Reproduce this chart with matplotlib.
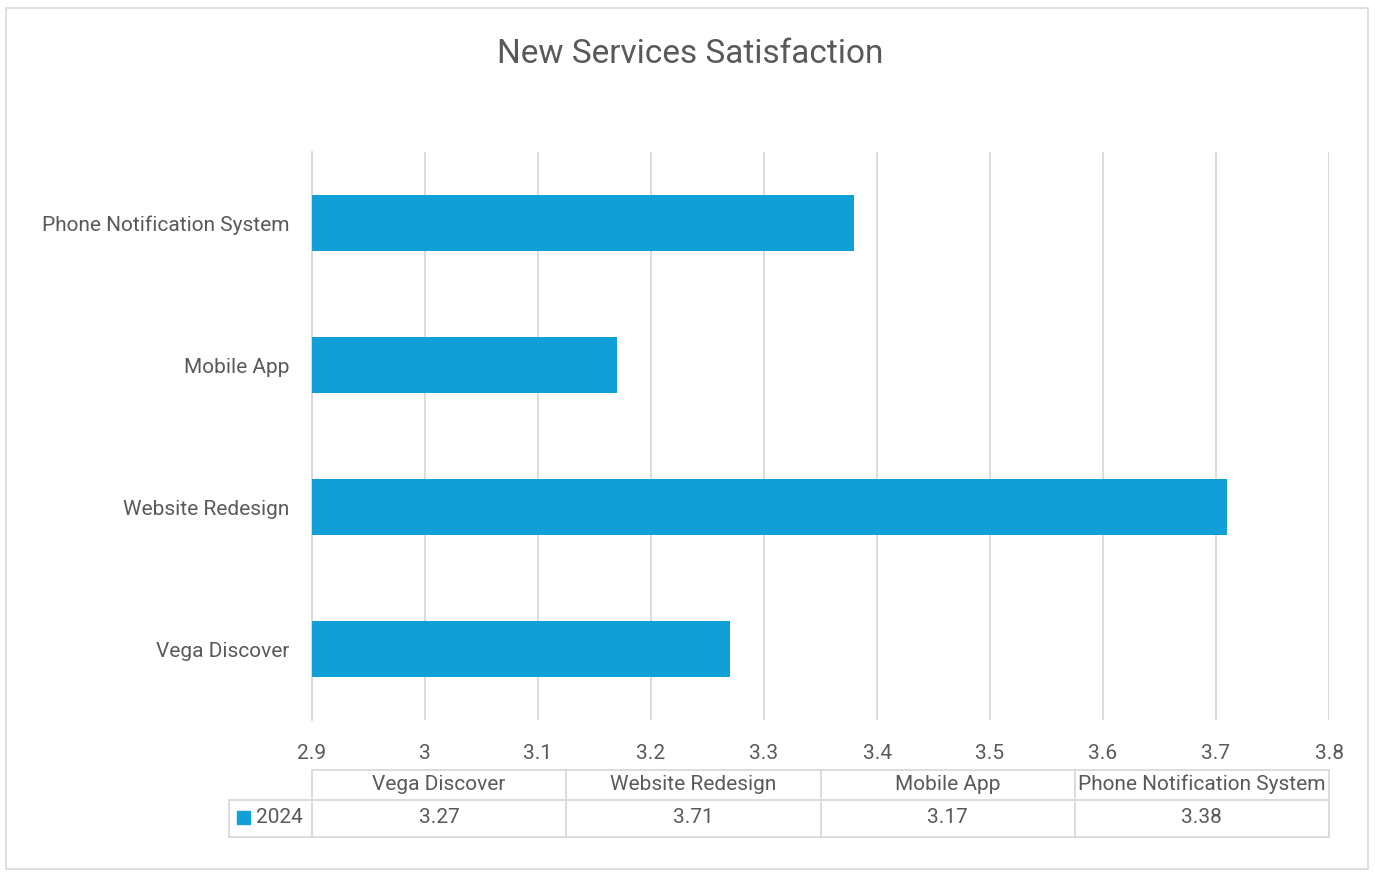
import matplotlib.pyplot as plt
from matplotlib.patches import Rectangle

# satisfaction scores per new service, 2024
services = ["Vega Discover", "Website Redesign", "Mobile App", "Phone Notification System"]
scores_2024 = [3.27, 3.71, 3.17, 3.38]
series_name = "2024"
x_ticks = [2.9, 3.0, 3.1, 3.2, 3.3, 3.4, 3.5, 3.6, 3.7, 3.8]
x_tick_labels = ["2.9", "3", "3.1", "3.2", "3.3", "3.4", "3.5", "3.6", "3.7", "3.8"]

BAR = "#109FD7"
TEXT = "#595959"
GRID = "#D9D9D9"
FS = 15

plt.rcParams["font.family"] = ["Roboto", "DejaVu Sans"]

W, H = 1375, 872
fig = plt.figure(figsize=(W / 100, H / 100), dpi=100)

# chart border
fig.patches.append(Rectangle((6 / W, 3 / H), 1362 / W, 861 / H, transform=fig.transFigure,
                             fill=False, edgecolor=GRID, linewidth=1.2))

fig.text(690 / W, 1 - 54 / H, "New Services Satisfaction", ha="center", va="center",
         fontsize=24, color=TEXT)

ax = fig.add_axes([312 / W, 1 - 720 / H, 1017 / W, 568 / H])
ypos = list(range(len(services)))
ax.barh(ypos, [s - x_ticks[0] for s in scores_2024], left=x_ticks[0], height=0.4,
        color=BAR, zorder=3)
ax.set_xlim(x_ticks[0], x_ticks[-1])
ax.set_ylim(-0.5, len(services) - 0.5)
ax.set_xticks(x_ticks)
ax.set_xticklabels(x_tick_labels)
ax.set_yticks(ypos)
ax.set_yticklabels(services)
ax.tick_params(axis="both", length=0, labelsize=FS, labelcolor=TEXT)
ax.tick_params(axis="x", pad=17)
ax.tick_params(axis="y", pad=16.5)
ax.grid(axis="x", color=GRID, linewidth=1.3, zorder=0)
for side in ["top", "right", "bottom"]:
    ax.spines[side].set_visible(False)
ax.spines["left"].set_color(GRID)
ax.spines["left"].set_linewidth(1.3)

# data table under the axis: header row on top, value row below
tab = fig.add_axes([229 / W, 1 - 837 / H, 1100 / W, 67 / H])
ncol = len(services)
lab_w = 83 / (1017 / ncol)
row_h, head_h = 37, 30
top = row_h + head_h
tab.set_xlim(-lab_w, ncol)
tab.set_ylim(0, top)
tab.axis("off")
lw = 1.3
row_mid = row_h / 2 + 1
head_mid = row_h + head_h / 2 + 1
# horizontal rules
tab.plot([0, ncol], [top, top], color=GRID, lw=lw, clip_on=False)
tab.plot([-lab_w, ncol], [row_h, row_h], color=GRID, lw=lw, clip_on=False)
tab.plot([-lab_w, ncol], [0, 0], color=GRID, lw=lw, clip_on=False)
# vertical rules
tab.plot([-lab_w, -lab_w], [0, row_h], color=GRID, lw=lw, clip_on=False)
for i in range(ncol + 1):
    tab.plot([i, i], [0, top], color=GRID, lw=lw, clip_on=False)
for i, (name, val) in enumerate(zip(services, scores_2024)):
    tab.text(i + 0.5, head_mid, name, ha="center", va="center", fontsize=FS, color=TEXT)
    tab.text(i + 0.5, row_mid, f"{val:.2f}", ha="center", va="center", fontsize=FS, color=TEXT)
tab.add_patch(Rectangle((-lab_w + 0.032, row_mid - 6.5), 0.051, 13, color=BAR, clip_on=False))
tab.text(-lab_w + 0.106, row_mid, series_name, ha="left", va="center", fontsize=FS, color=TEXT)

fig.savefig("out.png", dpi=100)
